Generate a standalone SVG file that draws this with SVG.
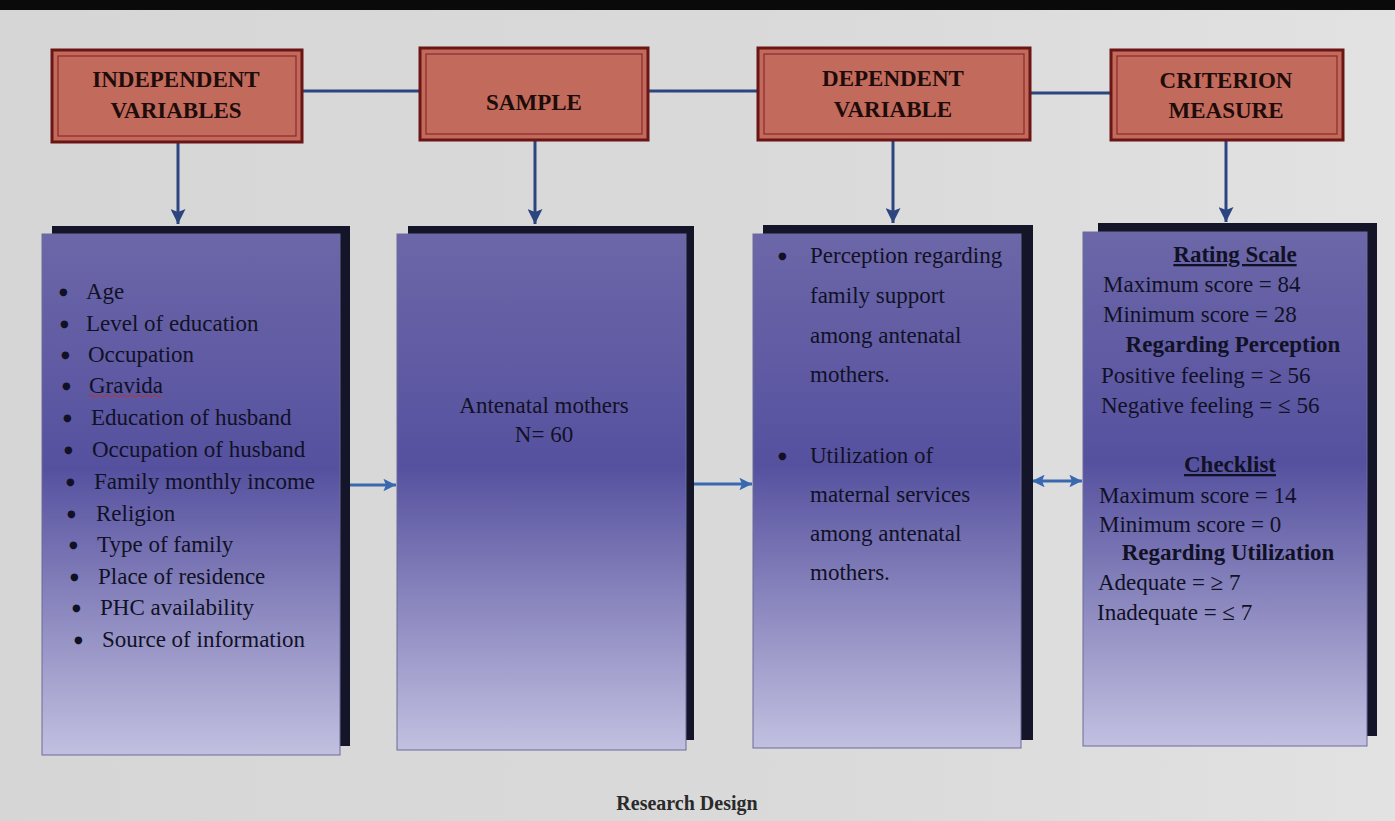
<svg xmlns="http://www.w3.org/2000/svg" width="1395" height="821" viewBox="0 0 1395 821">
<style>
.hdr{fill:#c26a5c;stroke:#6b1515;stroke-width:3}
.hin{fill:none;stroke:#8a2a2a;stroke-width:1.2}
.ht{font-family:"Liberation Serif",serif;font-weight:bold;font-size:23px;fill:#1e0c0a;text-anchor:middle}
.shd{fill:#15152a}
.box{fill:url(#lav);stroke:#6d6a9a;stroke-width:1}
.t{font-family:"Liberation Serif",serif;font-size:23px;fill:#111126}
.bu{font-family:"DejaVu Sans",sans-serif;font-size:10px;fill:#111126}
.tb{font-family:"Liberation Serif",serif;font-size:23px;fill:#111126;font-weight:bold;text-anchor:middle}
.c{text-anchor:middle}
.nav{stroke:#2c4580;stroke-width:3;fill:none}
.blu{stroke:#3a68b0;stroke-width:3;fill:none}
</style>
<defs>
<linearGradient id="lav" x1="0" y1="0" x2="0" y2="1">
<stop offset="0" stop-color="#6c67a8"/>
<stop offset="0.45" stop-color="#56519f"/>
<stop offset="1" stop-color="#c2c0e0"/>
</linearGradient>
<linearGradient id="bg" x1="0" y1="0" x2="1" y2="0">
<stop offset="0" stop-color="#d6d6d6"/>
<stop offset="0.6" stop-color="#dadada"/>
<stop offset="1" stop-color="#e2e2e2"/>
</linearGradient>
<marker id="ahN" viewBox="0 0 10 10" refX="10" refY="5" markerWidth="5" markerHeight="5" orient="auto" markerUnits="strokeWidth">
<path d="M0,0 L10,5 L0,10 L2,5 z" fill="#2c4580"/>
</marker>
<marker id="ahB" viewBox="0 0 10 10" refX="10" refY="5" markerWidth="4.4" markerHeight="4.2" orient="auto-start-reverse" markerUnits="strokeWidth">
<path d="M0,0 L10,5 L0,10 L2,5 z" fill="#3a68b0"/>
</marker>
</defs>
<rect x="0" y="0" width="1395" height="821" fill="url(#bg)"/>
<rect x="0" y="0" width="1395" height="10" fill="#0a0a0a"/>

<g id="connectors">
<line class="nav" x1="302" y1="91" x2="420" y2="91"/>
<line class="nav" x1="648" y1="91" x2="758" y2="91"/>
<line class="nav" x1="1030" y1="93" x2="1111" y2="93"/>
<line class="nav" x1="178" y1="143" x2="178" y2="224" marker-end="url(#ahN)"/>
<line class="nav" x1="535" y1="141" x2="535" y2="224" marker-end="url(#ahN)"/>
<line class="nav" x1="893" y1="141" x2="893" y2="223" marker-end="url(#ahN)"/>
<line class="nav" x1="1226" y1="141" x2="1226" y2="222" marker-end="url(#ahN)"/>
<line class="blu" x1="342" y1="485" x2="396" y2="485" marker-end="url(#ahB)"/>
<line class="blu" x1="694" y1="484" x2="752" y2="484" marker-end="url(#ahB)"/>
<line class="blu" x1="1032" y1="481" x2="1082" y2="481" marker-start="url(#ahB)" marker-end="url(#ahB)"/>
</g>

<g id="h-independent">
<rect class="hdr" x="52" y="50" width="250" height="92"/>
<rect class="hin" x="58" y="56" width="238" height="80"/>
<text class="ht" x="176" y="87">INDEPENDENT</text>
<text class="ht" x="176" y="118">VARIABLES</text>
</g>
<g id="h-sample">
<rect class="hdr" x="420" y="48" width="228" height="92"/>
<rect class="hin" x="426" y="54" width="216" height="80"/>
<text class="ht" x="534" y="110">SAMPLE</text>
</g>
<g id="h-dependent">
<rect class="hdr" x="758" y="48" width="272" height="92"/>
<rect class="hin" x="764" y="54" width="260" height="80"/>
<text class="ht" x="893" y="86">DEPENDENT</text>
<text class="ht" x="893" y="117">VARIABLE</text>
</g>
<g id="h-criterion">
<rect class="hdr" x="1111" y="50" width="232" height="90"/>
<rect class="hin" x="1117" y="56" width="220" height="78"/>
<text class="ht" x="1226" y="88">CRITERION</text>
<text class="ht" x="1226" y="118">MEASURE</text>
</g>

<g id="b-independent">
<rect class="shd" x="52" y="226" width="298" height="520"/>
<rect class="box" x="42" y="234" width="298" height="521"/>
<g class="bu">
<text x="59" y="295">●</text>
<text x="60" y="327">●</text>
<text x="61" y="358">●</text>
<text x="62" y="389">●</text>
<text x="63" y="421">●</text>
<text x="64" y="453">●</text>
<text x="66" y="485">●</text>
<text x="67" y="517">●</text>
<text x="69" y="548">●</text>
<text x="70" y="580">●</text>
<text x="72" y="611">●</text>
<text x="74" y="643">●</text>
</g>
<g class="t">
<text x="86" y="299">Age</text>
<text x="86" y="331">Level of education</text>
<text x="88" y="362">Occupation</text>
<text x="89" y="393">Gravida</text>
<text x="91" y="425">Education of husband</text>
<text x="92" y="457">Occupation of husband</text>
<text x="94" y="489">Family monthly income</text>
<text x="96" y="521">Religion</text>
<text x="97" y="552">Type of family</text>
<text x="98" y="584">Place of residence</text>
<text x="100" y="615">PHC availability</text>
<text x="102" y="647">Source of information</text>
</g>
<path d="M89,396 q2,-2 4,0 t4,0 t4,0 t4,0 t4,0 t4,0 t4,0 t4,0 t4,0 t4,0 t4,0 t4,0 t4,0 t4,0 t4,0 t4,0 t4,0 t4,0" fill="none" stroke="#c03030" stroke-width="1"/>
</g>

<g id="b-sample">
<rect class="shd" x="408" y="226" width="286" height="514"/>
<rect class="box" x="397" y="234" width="289" height="516"/>
<text class="t c" x="544" y="413">Antenatal mothers</text>
<text class="t c" x="544" y="442">N= 60</text>
</g>

<g id="b-dependent">
<rect class="shd" x="763" y="225" width="270" height="515"/>
<rect class="box" x="753" y="234" width="268" height="514"/>
<text class="bu" x="778" y="259">●</text>
<text class="bu" x="778" y="459">●</text>
<g class="t">
<text x="810" y="263">Perception regarding</text>
<text x="810" y="303">family support</text>
<text x="810" y="343">among antenatal</text>
<text x="810" y="382">mothers.</text>
<text x="810" y="463">Utilization of</text>
<text x="810" y="502">maternal services</text>
<text x="810" y="541">among antenatal</text>
<text x="810" y="580">mothers.</text>
</g>
</g>

<g id="b-criterion">
<rect class="shd" x="1098" y="223" width="279" height="513"/>
<rect class="box" x="1083" y="232" width="284" height="514"/>
<text class="tb" x="1235" y="262" text-decoration="underline">Rating Scale</text>
<text class="t" x="1103" y="292">Maximum score = 84</text>
<text class="t" x="1103" y="322">Minimum score = 28</text>
<text class="tb" x="1233" y="352">Regarding Perception</text>
<text class="t" x="1101" y="383">Positive feeling = ≥ 56</text>
<text class="t" x="1101" y="413">Negative feeling = ≤ 56</text>
<text class="tb" x="1230" y="472" text-decoration="underline">Checklist</text>
<text class="t" x="1099" y="503">Maximum score = 14</text>
<text class="t" x="1099" y="532">Minimum score = 0</text>
<text class="tb" x="1228" y="560">Regarding Utilization</text>
<text class="t" x="1098" y="590">Adequate = ≥ 7</text>
<text class="t" x="1097" y="620">Inadequate = ≤ 7</text>
</g>

<text id="caption" x="687" y="810" font-family="Liberation Serif, serif" font-weight="bold" font-size="20" fill="#2a2a2a" text-anchor="middle">Research Design</text>
</svg>
